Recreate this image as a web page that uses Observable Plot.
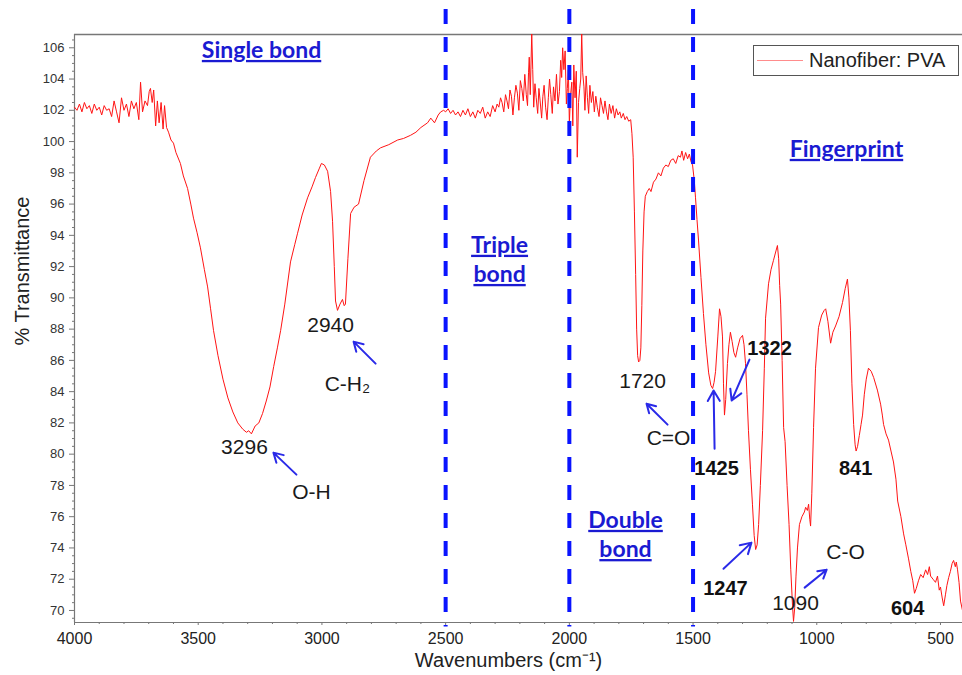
<!DOCTYPE html>
<html>
<head>
<meta charset="utf-8">
<script src="https://cdn.jsdelivr.net/npm/d3@7"></script>
<script src="https://cdn.jsdelivr.net/npm/@observablehq/plot@0.6"></script>
<style>
  html, body { margin: 0; padding: 0; background: #fff; }
  #chart { position: relative; width: 962px; height: 675px; }
</style>
</head>
<body>
<div id="chart"></div>
<script>
// ---- Spectrum data: [wavenumber (cm-1), % transmittance] ----
const singleBondRegion = [
  [4000,102.2],[3990,102.0],[3980,102.4],[3970,101.9],[3960,102.5],[3950,102.1],[3940,102.3],[3930,101.8],
  [3920,102.4],[3910,102.0],[3900,102.2],[3890,101.7],[3880,102.3],[3870,102.0],[3860,102.1],[3850,101.6],
  [3840,102.6],[3830,101.9],[3820,101.2],[3810,102.8],[3800,102.0],[3790,102.4],[3780,101.6],[3770,102.6],
  [3760,102.1],[3750,102.5],[3740,101.4],[3733,103.8],[3725,101.9],[3715,102.6],[3705,102.3],[3698,103.2],
  [3693,103.4],[3686,102.5],[3680,103.3],[3672,101.0],[3665,102.6],[3658,101.2],[3650,102.5],[3642,100.8],
  [3636,102.3],[3628,100.9],[3620,100.6],[3610,100.1],[3600,99.9],[3590,99.3],[3572,98.6],[3560,97.8],
  [3543,97.0],[3530,96.0],[3519,95.1],[3505,94.2],[3491,93.2],[3475,91.8],[3462,90.7],[3450,89.3],
  [3438,87.9],[3420,86.3],[3400,84.8],[3380,83.6],[3360,82.7],[3340,82.0],[3320,81.6],[3305,81.4],
  [3296,81.5],[3285,81.3],[3270,81.8],[3255,82.0],[3240,82.6],[3225,83.4],[3210,84.3],[3195,85.6],
  [3180,86.8],[3167,87.9],[3150,89.6],[3127,92.3],[3110,93.4],[3099,94.1],[3080,95.3],[3058,96.4],
  [3040,97.1],[3026,97.7],[3010,98.3],[3002,98.6],[2990,98.5],[2977,98.1],[2965,96.8],[2957,94.9],
  [2950,92.0],[2945,89.8],[2937,89.2],[2927,89.6],[2917,89.9],[2910,89.5],[2905,89.6],[2895,92.5],
  [2884,95.4],[2870,95.8],[2852,96.0],[2830,97.5],[2804,99.0],[2780,99.4],[2763,99.6],[2730,99.8],
  [2694,100.1],[2670,100.2],[2642,100.4],[2620,100.6],[2600,100.9],[2573,101.2],[2560,101.5],[2545,101.2],
  [2530,101.7],[2520,101.9],[2508,102.0]
];
const tripleDoubleRegion = [
  [2500,101.9],[2490,102.1],[2480,101.8],[2470,102.0],[2460,101.7],[2450,101.9],[2440,101.6],[2430,102.0],
  [2420,101.7],[2410,102.1],[2400,101.6],[2390,101.9],[2380,101.5],[2370,102.0],[2360,101.8],[2350,102.2],
  [2340,101.5],[2330,101.9],[2320,101.6],[2310,102.3],[2300,101.9],[2292,102.4],[2285,102.2],[2278,102.8],
  [2272,102.5],[2265,101.9],[2258,103.0],[2252,102.6],[2246,102.1],[2240,103.3],[2234,102.9],[2228,101.7],
  [2222,102.8],[2216,103.6],[2210,103.1],[2204,102.0],[2198,103.9],[2192,103.4],[2186,102.6],[2180,104.3],
  [2174,103.0],[2169,102.3],[2165,104.4],[2162,105.4],[2158,103.0],[2152,106.9],[2148,104.6],[2144,102.2],
  [2139,103.7],[2134,102.8],[2128,101.8],[2123,103.4],[2118,102.6],[2112,101.5],[2107,102.9],[2102,103.6],
  [2096,102.2],[2090,101.4],[2085,102.8],[2080,104.0],[2075,103.0],[2069,101.8],[2064,103.5],[2058,102.6],
  [2052,104.3],[2046,102.4],[2040,103.2],[2035,105.2],[2031,104.1],[2027,106.0],[2022,104.6],[2017,105.8],
  [2012,102.4],[2008,103.4],[2004,104.6],[2000,101.2],[1995,103.0],[1990,103.8],[1986,101.0],[1982,104.9],
  [1977,102.8],[1972,104.5],[1968,99.0],[1963,102.5],[1958,103.4],[1954,104.0],[1950,106.9],[1946,104.4],
  [1941,103.5],[1937,102.0],[1932,104.2],[1927,102.8],[1922,101.8],[1917,103.6],[1911,102.5],[1905,103.2],
  [1899,101.9],[1893,102.9],[1887,102.2],[1880,101.6],[1874,102.8],[1868,102.3],[1862,101.8],[1856,102.6],
  [1850,101.9],[1844,101.4],[1838,102.4],[1831,101.8],[1824,102.3],[1817,101.5],[1810,102.1],[1803,101.7],
  [1796,101.9],[1790,101.5],[1782,101.8],[1775,101.4],[1768,101.6],[1760,101.3],[1752,101.4],[1747,100.5],
  [1742,99.0],[1737,95.5],[1732,91.5],[1728,88.0],[1724,86.3],[1720,85.9],[1715,86.0],[1711,86.8],
  [1707,89.5],[1703,93.0],[1698,95.5],[1693,96.5],[1685,96.8],[1677,97.0],[1670,96.8],[1660,97.4],
  [1650,97.6],[1640,98.0],[1630,97.8],[1620,98.3],[1610,98.5],[1600,98.4],[1590,98.8],[1580,98.9],
  [1570,98.6],[1560,99.1],[1551,99.0],[1545,99.4],[1538,98.8],[1530,99.3],[1522,98.9],[1515,99.2],
  [1508,98.7],[1502,98.5]
];
const fingerprintRegion = [
  [1495,97.5],[1490,96.4],[1484,95.0],[1478,93.7],[1468,91.3],[1458,89.0],[1448,87.0],[1437,85.2],
  [1428,84.4],[1421,84.2],[1415,84.6],[1409,85.3],[1400,87.5],[1393,89.3],[1387,88.8],[1381,87.5],
  [1377,84.5],[1373,82.5],[1368,83.5],[1361,85.8],[1355,87.0],[1349,87.8],[1342,87.2],[1335,86.5],
  [1328,86.2],[1320,86.8],[1310,87.4],[1300,87.6],[1294,87.0],[1288,85.8],[1282,83.8],[1276,81.5],
  [1268,79.0],[1260,76.8],[1253,74.8],[1247,73.9],[1241,74.2],[1235,75.5],[1228,78.0],[1219,81.5],
  [1212,85.5],[1207,88.7],[1195,90.9],[1185,91.8],[1175,92.4],[1165,93.0],[1159,93.35],[1154,92.5],
  [1150,90.8],[1146,89.6],[1140,86.0],[1134,81.7],[1128,80.8],[1120,78.0],[1112,75.5],[1105,72.6],
  [1098,70.3],[1094,69.3],[1089,70.2],[1084,72.2],[1078,74.0],[1070,75.5],[1060,76.0],[1050,76.3],
  [1045,76.6],[1038,76.4],[1033,76.8],[1028,75.8],[1025,75.4],[1020,77.5],[1013,81.7],[1005,85.5],
  [993,88.1],[980,88.9],[970,89.2],[964,89.3],[955,88.5],[944,87.1],[935,87.8],[924,88.2],
  [910,88.8],[896,89.7],[885,90.6],[876,91.2],[870,90.0],[864,87.9],[858,84.5],[851,81.9],
  [845,80.6],[841,80.2],[835,80.5],[828,81.2],[821,81.9],[815,82.5],[808,83.8],[800,84.8],
  [791,85.5],[780,85.3],[770,84.9],[755,84.1],[742,83.2],[735,82.5],[730,81.9],[720,81.3],
  [710,80.9],[700,80.2],[690,79.5],[680,78.4],[673,77.0],[660,76.0],[649,74.9],[640,74.2],
  [629,73.3],[620,72.5],[612,71.9],[605,71.1],[598,71.4],[589,71.9],[580,72.3],[570,72.1],
  [560,72.6],[552,72.3],[545,72.8],[540,72.2],[530,72.0],[520,71.8],[512,72.2],[505,71.3],
  [500,71.5],[493,70.8],[487,70.3],[480,71.0],[474,71.6],[467,72.1],[460,72.5],[453,73.0],
  [447,73.2],[440,72.8],[436,73.1],[431,72.6],[425,71.8],[419,70.6],[411,70.0]
];

// ---- Axis ticks ----
const yMajorTicks = [70,72,74,76,78,80,82,84,86,88,90,92,94,96,98,100,102,104,106];
const xMajorTicks = [4000,3500,3000,2500,2000,1500,1000,500];

// ---- Region dividers ----
const dividerWavenumbers = [2500, 2000, 1500];

// ---- Region headings ----
const headingText = ["Single bond", "Triple\nbond", "Double\nbond", "Fingerprint"];
const headingWn   = [3244, 2282, 1773, 880];
const headingT    = [105.95, 92.55, 74.95, 99.62];

// ---- Peak / group labels ----
const labelText = ["3296", "O-H", "2940", "C-H\u2082", "1720", "C=O", "1090", "C-O"];
const labelWn   = [3313, 3042, 2965, 2897, 1704, 1599, 1086, 884];
const labelT    = [80.42, 77.54, 88.23, 84.45, 84.64, 81.0, 70.43, 73.70];

const boldLabelText = ["1425", "1322", "1247", "841", "604"];
const boldLabelWn   = [1405, 1191, 1369, 843, 633];
const boldLabelT    = [79.1, 86.75, 71.39, 79.07, 70.12];

// ---- Arrows (tail -> head) ----
const arrowWn1 = [3103, 2783, 1603, 1413, 1272, 1377, 1049];
const arrowT1  = [78.69, 85.79, 81.89, 80.35, 86.05, 72.67, 71.46];
const arrowWn2 = [3196, 2872, 1688, 1417, 1344, 1264, 960];
const arrowT2  = [80.10, 87.20, 83.23, 84.07, 83.43, 74.34, 72.61];

const seriesName = "Nanofiber: PVA";

// ---- Build tables ----
const spectrum = [...singleBondRegion, ...tripleDoubleRegion, ...fingerprintRegion]
  .map(([wn, t]) => ({wn, t}));
const headings = headingText.map((text, i) => ({text, wn: headingWn[i], t: headingT[i]}));
const labels = labelText.map((text, i) => ({text, wn: labelWn[i], t: labelT[i]}));
const boldLabels = boldLabelText.map((text, i) => ({text, wn: boldLabelWn[i], t: boldLabelT[i]}));
const arrows = arrowWn1.map((d, i) => ({x1: d, y1: arrowT1[i], x2: arrowWn2[i], y2: arrowT2[i]}));

const yMin = 69.23, yMax = 106.85;
const yMinorTicks = d3.range(69.5, 106.85, 0.5).filter(v => v % 2 !== 0);
const xMinorTicks = d3.range(500, 4001, 100).filter(v => v % 500 !== 0);

const axisColor = "#777";
const textFont = "'Liberation Sans', Arial, sans-serif";

const plot = Plot.plot({
  width: 962,
  height: 675,
  marginLeft: 74,
  marginRight: 0,
  marginTop: 34,
  marginBottom: 53,
  style: {fontFamily: textFont, fontSize: "13px", color: "#333", background: "#fff", overflow: "visible"},
  x: {domain: [4000, 411]},
  y: {domain: [yMin, yMax]},
  marks: [
    // frame lines
    Plot.ruleY([yMax], {stroke: axisColor, strokeWidth: 1.5}),
    Plot.ruleY([yMin], {stroke: axisColor, strokeWidth: 1.2}),
    Plot.ruleX([4000], {stroke: axisColor, strokeWidth: 1.2}),
    // axes
    Plot.axisY({ticks: yMajorTicks, tickSize: 5, tickPadding: 5, fontSize: 13, stroke: axisColor, fill: "#333", label: null}),
    Plot.axisY({ticks: yMinorTicks, tickSize: 2, tickFormat: () => "", stroke: axisColor, label: null}),
    Plot.axisX({ticks: xMajorTicks, tickSize: 3, tickPadding: 7, fontSize: 16, stroke: axisColor, fill: "#222",
      tickFormat: d3.format("d"), label: null}),
    Plot.axisX({ticks: xMinorTicks, tickSize: 2, tickFormat: () => "", stroke: axisColor, label: null}),
    // axis titles
    Plot.text(["Wavenumbers (cm\u207B\u00B9)"], {frameAnchor: "bottom", dx: -10, dy: 44, fontSize: 20, fill: "#222"}),
    Plot.text(["% Transmittance"], {frameAnchor: "left", dx: -52, dy: 17, rotate: -90, fontSize: 20, fill: "#222"}),
    // spectrum
    Plot.line(spectrum, {x: "wn", y: "t", stroke: "#ff1414", strokeWidth: 1, clip: true}),
    // dashed region dividers
    Plot.ruleX(dividerWavenumbers, {y1: 108.45, y2: 68.95, stroke: "#0a14ff", strokeWidth: 4, strokeDasharray: "15,13"}),
    // region headings
    Plot.text(headings, {x: "wn", y: "t", text: "text", fontFamily: "Lato, 'Open Sans', sans-serif", fontWeight: "bold",
      fontSize: 23, lineHeight: 1.27, fill: "#1a1ad2", ariaDescription: "heading"}),
    // labels
    Plot.text(labels, {x: "wn", y: "t", text: "text", fontSize: 21, fill: "#1a1a1a"}),
    Plot.text(boldLabels, {x: "wn", y: "t", text: "text", fontSize: 20, fontWeight: "bold", fill: "#111"}),
    // arrows
    Plot.arrow(arrows, {x1: "x1", y1: "y1", x2: "x2", y2: "y2", stroke: "#2a2ae8", strokeWidth: 2, headLength: 9, bend: false})
  ]
});

// underline region headings
d3.select(plot).selectAll("g[aria-description=heading] text").style("text-decoration", "underline");

// legend box inside the plot area
const svg = d3.select(plot);
const lg = svg.append("g").attr("aria-label", "legend").attr("text-anchor", "start");
lg.append("rect").attr("x", 753.5).attr("y", 45.5).attr("width", 205).attr("height", 30)
  .attr("fill", "#fff").attr("stroke", "#555").attr("stroke-width", 1);
lg.append("line").attr("x1", 757).attr("x2", 803).attr("y1", 60.5).attr("y2", 60.5)
  .attr("stroke", "#ff8c8c").attr("stroke-width", 1);
lg.append("text").attr("x", 809).attr("y", 67).attr("font-size", 20).attr("fill", "#222")
  .attr("text-anchor", "start").attr("font-family", textFont).text(seriesName);

document.getElementById("chart").appendChild(plot);
</script>
</body>
</html>
